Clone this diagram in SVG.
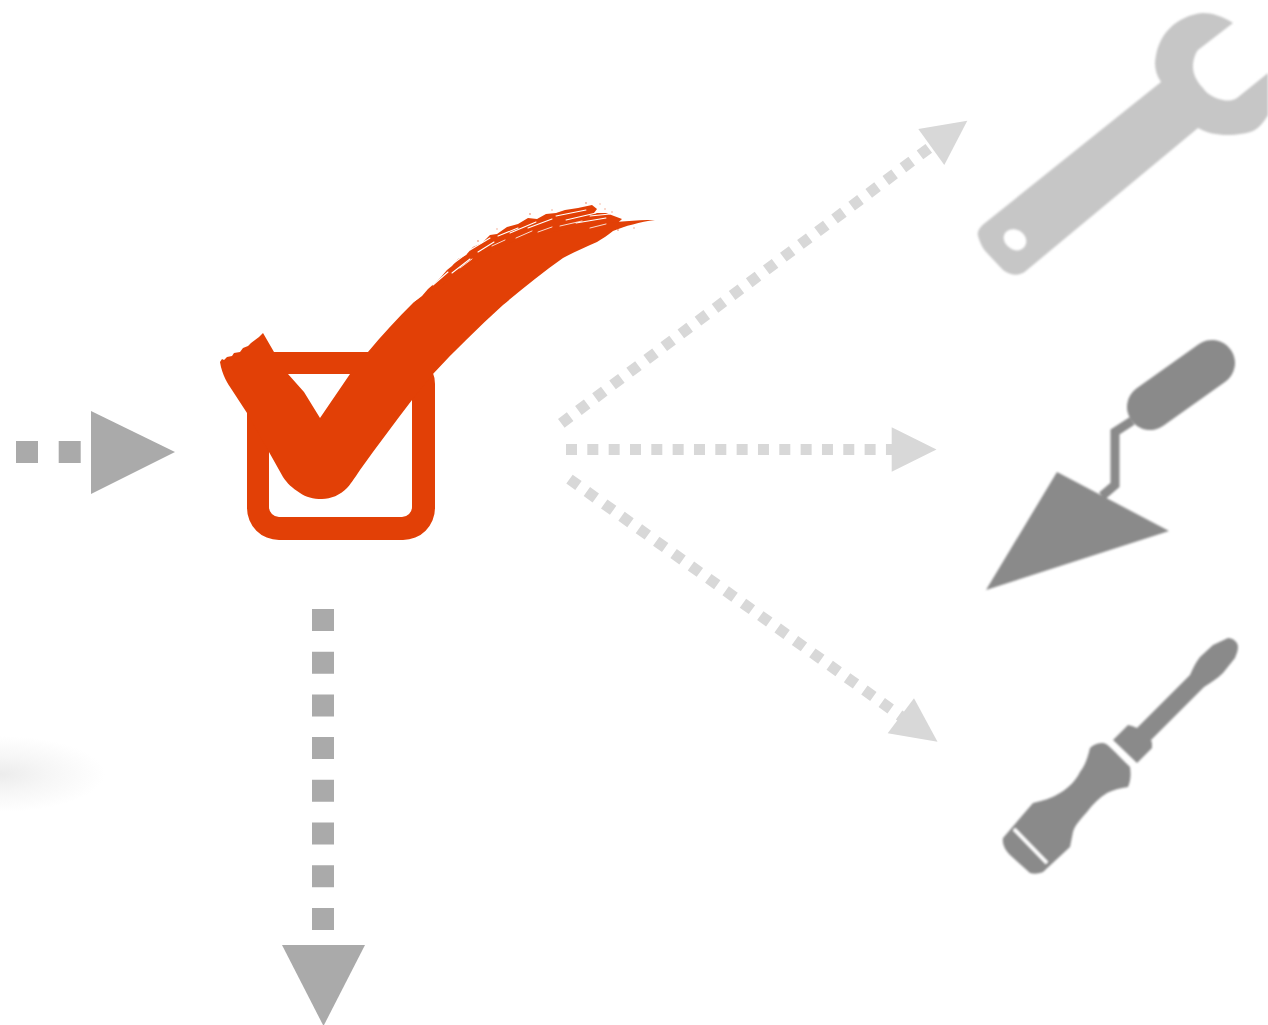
<svg xmlns="http://www.w3.org/2000/svg" width="1268" height="1025" viewBox="0 0 1268 1025">
<style>
.dk{fill:none;stroke:#aaaaaa;stroke-width:22;stroke-dasharray:22 20.7}
.lt{fill:none;stroke:#d8d8d8;stroke-width:11;stroke-dasharray:11 10.33}
.hd{fill:#aaaaaa}.hl{fill:#d8d8d8}
.tool{fill:#8a8a8a}
.org{fill:#e24006}
.st{fill:none;stroke:#fff;stroke-linecap:round}
.so{fill:none;stroke:#e24006;stroke-linecap:round}
.sp{fill:#e24006;opacity:.45}
</style>
<defs>
<filter id="b" filterUnits="userSpaceOnUse" x="950" y="0" width="318" height="900"><feGaussianBlur stdDeviation="0.9"/></filter>
<radialGradient id="sh"><stop offset="0" stop-color="#ececec"/><stop offset="0.45" stop-color="#f6f6f6"/><stop offset="1" stop-color="#fff"/></radialGradient>
</defs>
<rect width="1268" height="1025" fill="#fff"/>
<ellipse id="shadow" cx="0" cy="774" rx="105" ry="38" fill="url(#sh)"/>
<g id="connectors">
<line class="dk" x1="16" y1="452" x2="84" y2="452"/><polygon class="hd" points="91,411 91,494 175,452"/>
<line class="dk" x1="323" y1="609" x2="323" y2="932"/><polygon class="hd" points="282,945 365,945 323.5,1026"/>
<line class="lt" x1="561.3" y1="423.3" x2="929" y2="148.2"/><polygon class="hl" points="918.3,129 967.3,120.7 944.3,165"/>
<line class="lt" x1="566" y1="449.5" x2="895" y2="449.5"/><polygon class="hl" points="891.7,427.3 891.7,471.7 936.5,449.5"/>
<line class="lt" x1="569.5" y1="479.1" x2="909" y2="722"/><polygon class="hl" points="914,698.3 937.5,741.7 887.7,733.3"/>
</g>
<g id="checkbox">
<path class="org" fill-rule="evenodd" d="M279,352H403A32,32 0 0 1 435,384V508A32,32 0 0 1 403,540H279A32,32 0 0 1 247,508V384A32,32 0 0 1 279,352ZM279,374A10,10 0 0 0 269,384V507A10,10 0 0 0 279,517H402A10,10 0 0 0 412,507V384A10,10 0 0 0 402,374Z"/>
<path class="org" d="M413,303 422,296 428,289 436,282 441,277 447,270 452,266 458,259 466,255 473,247 482,243 490,235 497,234 507,227 518,224 528,218 537,219 546,214 556,213 565,210 578,208 592,205 597,209 594,213 606,213 622,219 610,230 540,242 450,290Z"/>
<path class="org" fill-rule="evenodd" d="M220,362L222,359 224,360 227,357 232,356 234,353 240,352 243,348 248,346 251,343 255,340 259,337 263,333 274,352H368C382,335 398,318 413,303 420,298 425,296 430,293 445,283 452,278 463,270 475,261 485,255 497,248 508,243 518,240 530,237 543,234 553,232 563,230 575,227 585,225 600,224 615,222 635,220 655,220 640,222 625,226 613,231 608,235 602,239 597,242 586,247 574,252 563,258 543,272 522,289 503,305 478,328 455,350 433,374L412,400C395,422 378,445 360,470 354,479 350,485 347,488 340,495 331,499 322,499 313,499 306,497 300,493 292,488 287,483 283,477L269,452 247,413 232,390C228,384 222,375 220,362ZM288,374H350L320,418 304,392Z"/>
<g class="st" stroke-width="1.1">
<path d="M433,285 448,272M447,268 466,254M452,273 470,259M470,250 490,238M478,252 494,242M498,236 518,228M510,233 536,222M528,228 552,219M556,216 586,210M566,220 596,213M576,223 606,218M590,216 610,214"/>
<path d="M460,268 472,259M492,246 505,240M516,238 532,231M538,232 552,227M560,226 582,221M590,228 606,224" stroke-width=".8"/>
</g>
<g class="sp">
<circle cx="478" cy="241" r=".9"/><circle cx="497" cy="229" r=".8"/><circle cx="530" cy="214" r=".9"/><circle cx="552" cy="210" r=".8"/><circle cx="586" cy="203" r=".9"/><circle cx="600" cy="204" r=".7"/><circle cx="612" cy="212" r=".8"/><circle cx="634" cy="228" r=".8"/><circle cx="618" cy="230" r=".9"/><circle cx="625" cy="224" r=".7"/><circle cx="605" cy="209" r=".8"/>
</g>
</g>
<g id="wrench">
<path fill="#c6c6c6" fill-rule="evenodd" filter="url(#b)" d="M1233,23C1222,16 1212,13 1203,13 1190,14 1178,20 1170,28 1160,38 1156,50 1155,63 1155,70 1157,76 1161,82L985,223C980,227 977,231 978,236 980,243 983,249 987,253L1003,270C1008,274 1016,276 1020,274 1023,273 1025,272 1027,270L1198,128C1207,133 1217,135 1227,135 1238,135 1248,133 1253,131 1259,128 1264,122 1268,115V73L1237,98C1232,101 1227,101 1223,100 1214,98 1207,94 1203,88 1197,82 1193,74 1193,67 1193,60 1195,54 1198,50ZM1005,233C1008,229 1014,228 1020,231 1026,235 1028,241 1025,246 1022,251 1015,252 1010,248 1004,244 1002,238 1005,233Z"/>
</g>
<g id="trowel" filter="url(#b)">
<line x1="1150" y1="407" x2="1212" y2="363" stroke="#8a8a8a" stroke-width="46" stroke-linecap="round"/>
<polyline points="1132,421 1115,432 1115,485 1102,496" fill="none" stroke="#8a8a8a" stroke-width="9"/>
<polygon fill="#8a8a8a" points="1057,472 1169,531 986,590"/>
</g>
<g id="screwdriver" filter="url(#b)">
<path class="tool" d="M1228,638C1233,638 1238,642 1238,647 1238,651 1236,655 1235,658L1223,673C1217,679 1210,683 1204,687L1151,740 1152,743 1152,748 1137,763 1113,740 1128,725 1132,726 1137,728 1190,675C1193,668 1196,662 1200,657L1213,645Z"/>
<path class="tool" d="M1090,748C1094,744 1099,743 1103,743 1108,744 1110,747 1130,767 1131,773 1131,780 1128,787 1120,788 1113,790 1107,793 1099,798 1092,805 1087,812 1080,820 1075,825 1073,832L1070,847 1043,872C1038,874 1034,874 1030,873L1010,855C1005,850 1002,844 1003,838L1033,803C1042,801 1052,798 1060,793 1070,787 1076,780 1080,772 1086,764 1088,756 1090,748Z"/>
<line x1="1014" y1="829" x2="1047" y2="863" stroke="#fff" stroke-width="3.5"/>
</g>
</svg>
